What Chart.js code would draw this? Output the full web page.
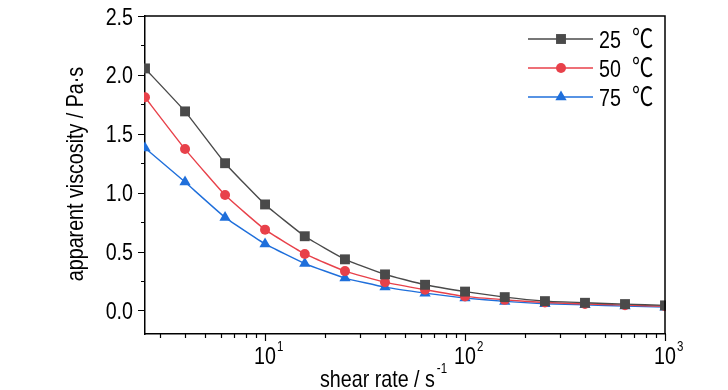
<!DOCTYPE html>
<html><head><meta charset="utf-8">
<script src="https://cdn.jsdelivr.net/npm/chart.js@4"></script>
<style>html,body{margin:0;padding:0;background:#fff}canvas{display:block}</style>
</head><body>
<canvas id="c" width="728" height="390"></canvas>
<script>
const shearRate = [2.51, 3.98, 6.31, 10, 15.8, 25.1, 39.8, 63.1, 100, 158, 251, 398, 631, 1000];
const visc25 = [2.055, 1.69, 1.25, 0.90, 0.63, 0.434, 0.306, 0.218, 0.16, 0.113, 0.079, 0.065, 0.054, 0.043];
const visc50 = [1.81, 1.37, 0.98, 0.686, 0.48, 0.334, 0.24, 0.176, 0.119, 0.09, 0.068, 0.055, 0.045, 0.036];
const visc75 = [1.38, 1.09, 0.79, 0.565, 0.398, 0.275, 0.198, 0.147, 0.105, 0.077, 0.057, 0.048, 0.037, 0.028];
const seriesLabels = ['25', '50', '75'];
const unitLabel = '\u2103';
const yTicks = [0, 0.5, 1, 1.5, 2, 2.5];
const yMinorTicks = [0.25, 0.75, 1.25, 1.75, 2.25];
const xDecades = [10, 100, 1000];
const xDecadeExp = ['1', '2', '3'];
const xMinorTicks = [3, 4, 5, 6, 7, 8, 9, 20, 30, 40, 50, 60, 70, 80, 90, 200, 300, 400, 500, 600, 700, 800, 900];
const xTitle = 'shear rate / s';
const xTitleSup = '-1';
const yTitle = 'apparent viscosity / Pa\u00B7s';

const FONT = "'Liberation Sans', Arial, sans-serif";
const NARROW = 0.82;
const colors = ['#4a4a4a', '#e8414a', '#1f6fdb'];
const markers = ['rect', 'circle', 'triangle'];
const radii = [7, 5, 6.5];

const toPts = arr => arr.map((v, i) => ({x: shearRate[i], y: v}));
const seriesData = [visc25, visc50, visc75];

const datasets = seriesData.map((d, i) => ({
  label: seriesLabels[i] + ' ' + unitLabel,
  data: toPts(d),
  borderColor: colors[i],
  backgroundColor: colors[i],
  pointBackgroundColor: colors[i],
  pointBorderColor: colors[i],
  pointBorderWidth: 0,
  pointStyle: markers[i],
  pointRadius: radii[i],
  borderWidth: 1.4,
  tension: 0.12,
  clip: 1
}));

function txt(ctx, s, x, y, size, align, family) {
  ctx.save();
  ctx.font = size + 'px ' + (family || FONT);
  const w = ctx.measureText(s).width * NARROW;
  let x0 = x;
  if (align === 'center') x0 = x - w / 2;
  else if (align === 'right') x0 = x - w;
  ctx.translate(x0, y);
  ctx.scale(NARROW, 1);
  ctx.textAlign = 'left';
  ctx.fillText(s, 0, 0);
  ctx.restore();
  return w;
}
function measure(ctx, s, size, family) {
  ctx.save(); ctx.font = size + 'px ' + (family || FONT);
  const w = ctx.measureText(s).width * NARROW; ctx.restore(); return w;
}

const deco = {
  id: 'deco',
  afterDraw(chart) {
    const ctx = chart.ctx, a = chart.chartArea;
    const xs = chart.scales.x, ys = chart.scales.y;
    ctx.save();
    ctx.strokeStyle = '#000';
    ctx.lineWidth = 1.5;
    ctx.beginPath();
    ctx.moveTo(a.left, a.top); ctx.lineTo(a.right, a.top); ctx.lineTo(a.right, a.bottom);
    ctx.stroke();
    ctx.lineWidth = 1.2;
    ctx.beginPath();
    yTicks.forEach(v => { const y = Math.round(ys.getPixelForValue(v)) + 0.5; ctx.moveTo(a.left - 7, y); ctx.lineTo(a.left, y); });
    yMinorTicks.forEach(v => { const y = Math.round(ys.getPixelForValue(v)) + 0.5; ctx.moveTo(a.left - 4, y); ctx.lineTo(a.left, y); });
    xDecades.forEach(v => { const x = Math.round(xs.getPixelForValue(v)) + 0.5; ctx.moveTo(x, a.bottom); ctx.lineTo(x, a.bottom + 7); });
    xMinorTicks.forEach(v => { const x = Math.round(xs.getPixelForValue(v)) + 0.5; ctx.moveTo(x, a.bottom); ctx.lineTo(x, a.bottom + 4); });
    ctx.stroke();

    ctx.fillStyle = '#000';
    ctx.textBaseline = 'alphabetic';
    // y tick labels
    yTicks.forEach(v => {
      txt(ctx, v.toFixed(1), a.left - 12, ys.getPixelForValue(v) + 8.5, 24, 'right');
    });
    // x tick labels
    xDecades.forEach((v, i) => {
      const x = xs.getPixelForValue(v);
      const w = txt(ctx, '10', x, 364, 24, 'center');
      txt(ctx, xDecadeExp[i], x + w / 2 + 1, 351, 14, 'left');
    });
    // x title
    const tw = measure(ctx, xTitle, 24);
    const sx = 320;
    txt(ctx, xTitle, sx, 387, 24, 'left');
    txt(ctx, xTitleSup, sx + tw + 2, 373, 14, 'left');

    // y title
    ctx.save();
    ctx.translate(83, 174);
    ctx.rotate(-Math.PI / 2);
    txt(ctx, yTitle, 0, 0, 24, 'center');
    ctx.restore();

    // legend
    chart.data.datasets.forEach((ds, i) => {
      const y = 39 + i * 29;
      ctx.strokeStyle = ds.borderColor;
      ctx.lineWidth = 1.4;
      ctx.beginPath(); ctx.moveTo(528, y); ctx.lineTo(593, y); ctx.stroke();
      ctx.fillStyle = ds.backgroundColor;
      Chart.helpers.drawPoint(ctx, {pointStyle: ds.pointStyle, radius: ds.pointRadius, borderWidth: 0}, 561, y);
      ctx.fillStyle = '#000';
      ctx.textBaseline = 'alphabetic';
      txt(ctx, seriesLabels[i], 599, y + 8.5, 24, 'left');
      txt(ctx, unitLabel, 632, y + 9, 26, 'left', "'Noto Sans CJK SC', 'DejaVu Sans', sans-serif");
    });
    ctx.restore();
  }
};

new Chart(document.getElementById('c'), {
  type: 'line',
  data: {datasets},
  options: {
    responsive: false,
    animation: false,
    layout: {padding: {top: 16, right: 63, left: 0, bottom: 0}},
    plugins: {legend: {display: false}, tooltip: {enabled: false}},
    scales: {
      x: {
        type: 'logarithmic', min: 2.51, max: 1000,
        grid: {display: false, drawTicks: false},
        border: {display: true, color: '#000', width: 1.5},
        ticks: {display: false},
        afterFit(s) { s.height = 56; }
      },
      y: {
        type: 'linear', min: -0.2, max: 2.5,
        grid: {display: false, drawTicks: false},
        border: {display: true, color: '#000', width: 1.5},
        afterBuildTicks(s) { s.ticks = yTicks.map(v => ({value: v})); },
        ticks: {display: false},
        afterFit(s) { s.width = 145; }
      }
    }
  },
  plugins: [deco]
});
</script>
</body></html>
